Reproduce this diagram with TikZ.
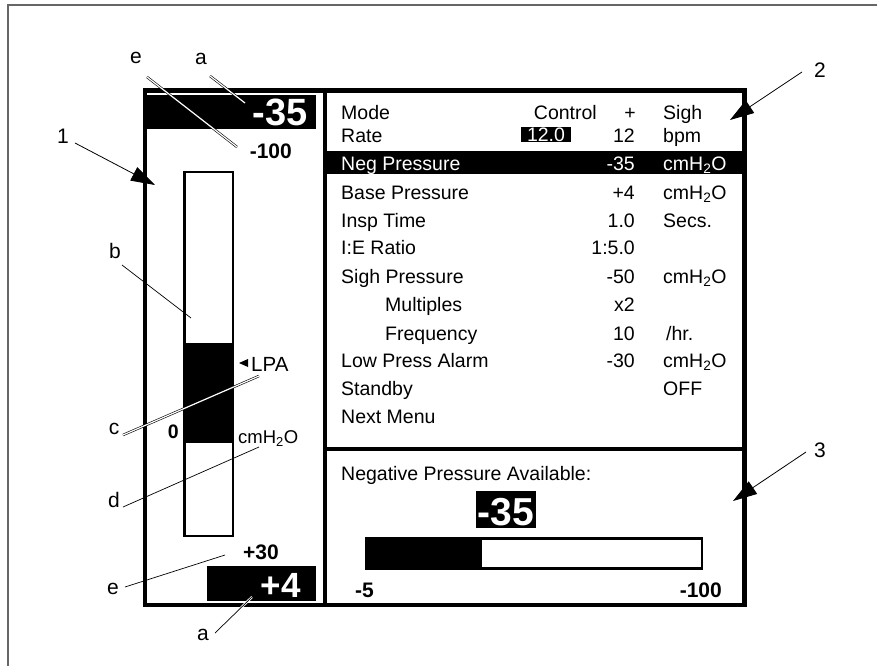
\documentclass[tikz,border=0pt]{standalone}
\usepackage{fontspec}
\setmainfont{Liberation Sans}
\usetikzlibrary{arrows.meta}
\newcommand{\cmHtwoO}{cmH\textsubscript{2}O}
\begin{document}
\begin{tikzpicture}[x=1pt,y=-1pt,
  mtxt/.style={inner sep=0pt,anchor=base west,font=\fontsize{19.5}{22}\selectfont},
  rnum/.style={mtxt,anchor=base east},
  wtxt/.style={text=white},
  btxt/.style={inner sep=0pt,font=\bfseries\fontsize{21}{24}\selectfont},
  bigtxt/.style={inner sep=0pt,text=white,font=\bfseries\fontsize{38}{40}\selectfont},
  lbl/.style={inner sep=0pt,anchor=base,font=\fontsize{21}{23}\selectfont},
  leader/.style={draw=black,line width=0.7pt},
  halo/.style={draw=black,line width=0.6pt,double=white,double distance=1.2pt},
  callout/.style={draw=black,line width=0.8pt,-{Triangle[length=24pt,width=15pt]}},
  panel/.style={draw=black,line width=4.5pt},
  gauge/.style={draw=black,line width=2.5pt}]
\useasboundingbox (0,0) rectangle (877,666);
\fill[white] (0,0) rectangle (877,666);
% scan frame
\draw[gray!80!black,line width=1.6pt] (8,666) -- (8,5) -- (877,5);
% left panel black boxes
\fill[black] (146,95) rectangle (316,128.5);
\fill[black] (207,566) rectangle (316,601);
% menu highlight
\fill[black] (327,151) rectangle (743,174);
\fill[black] (521,127) rectangle (571,142);
% display frame
\draw[panel] (145,90.5) rectangle (744.5,605);
\draw[line width=4pt] (325,90.5) -- (325,605);
\draw[line width=4pt] (325,449) -- (744.5,449);
% vertical gauge
\fill[black] (184.5,342.5) rectangle (233,442.5);
\draw[gauge] (184.5,172) rectangle (233,536);
% horizontal gauge
\fill[black] (366,538.5) rectangle (482,568.5);
\draw[gauge] (366,538.5) rectangle (702,568.5);
\fill[black] (239,363) -- (248,359) -- (248,367) -- cycle;
% left panel texts
\node[bigtxt,anchor=base east] (topval) at (308,125) {-35};
\node[btxt,anchor=base east] (tmax) at (292,158) {-100};
\node[mtxt,font=\fontsize{20.5}{22}\selectfont] (lpa) at (251,371) {LPA};
\node[btxt,anchor=base east,font=\bfseries\fontsize{19.5}{22}\selectfont] (zero) at (179,438) {0};
\node[mtxt,font=\fontsize{18.5}{20}\selectfont] (unitl) at (238,443) {\cmHtwoO};
\node[btxt,anchor=base east] (tmin) at (279,559) {+30};
\node[bigtxt,anchor=base east,font=\bfseries\fontsize{35}{36}\selectfont] (botval) at (301,597) {+4};
% menu texts
\node[mtxt] (mode) at (341,120) {Mode};
\node[rnum] (ctrl) at (597,120) {Control};
\node[mtxt,anchor=base] (plus) at (630,120) {+};
\node[mtxt] (sigh) at (663,120) {Sigh};
\node[mtxt] (rate) at (341,142) {Rate};
\node[mtxt,anchor=base,wtxt] (rateset) at (546,141) {12.0};
\node[rnum] (ratev) at (635,142) {12};
\node[mtxt] (rateu) at (663,142) {bpm};
\node[mtxt,wtxt] (neg) at (341,170) {Neg Pressure};
\node[rnum,wtxt] (negv) at (635,170) {-35};
\node[mtxt,wtxt] (negu) at (663,170) {\cmHtwoO};
\node[mtxt] (base) at (341,199) {Base Pressure};
\node[rnum] (basev) at (635,199) {+4};
\node[mtxt] (baseu) at (663,199) {\cmHtwoO};
\node[mtxt] (insp) at (341,227) {Insp Time};
\node[rnum] (inspv) at (635,227) {1.0};
\node[mtxt] (inspu) at (663,227) {Secs.};
\node[mtxt] (ie) at (341,254) {I:E Ratio};
\node[rnum] (iev) at (635,254) {1:5.0};
\node[mtxt] (sp) at (341,283) {Sigh Pressure};
\node[rnum] (spv) at (635,283) {-50};
\node[mtxt] (spu) at (663,283) {\cmHtwoO};
\node[mtxt] (mult) at (385,311) {Multiples};
\node[rnum] (multv) at (635,311) {x2};
\node[mtxt] (freq) at (385,340) {Frequency};
\node[rnum] (freqv) at (635,340) {10};
\node[mtxt] (frequ) at (666,340) {/hr.};
\node[mtxt] (lowp) at (341,367) {Low Press Alarm};
\node[rnum] (lowpv) at (635,367) {-30};
\node[mtxt] (lowpu) at (663,367) {\cmHtwoO};
\node[mtxt] (stby) at (341,395) {Standby};
\node[mtxt] (stbyv) at (663,395) {OFF};
\node[mtxt] (next) at (341,423) {Next Menu};
% bottom panel
\node[mtxt] (npa) at (341,480) {Negative Pressure Available:};
\fill[black] (476,491) rectangle (536,528);
\node[bigtxt,anchor=base,font=\bfseries\fontsize{39}{40}\selectfont] (npav) at (506,525) {-35};
\node[btxt,anchor=base west] (bmin) at (355,597) {-5};
\node[btxt,anchor=base east] (bmax) at (722,597) {-100};
% callout labels
\node[lbl] (le1) at (136,64) {e};
\node[lbl] (la1) at (201,65) {a};
\node[lbl] (l1) at (63,143) {1};
\node[lbl] (lb) at (115,258) {b};
\node[lbl] (lc) at (114,434) {c};
\node[lbl] (ld) at (114,507) {d};
\node[lbl] (le2) at (113,594) {e};
\node[lbl] (la2) at (203,640) {a};
\node[lbl] (l2) at (820,78) {2};
\node[lbl] (l3) at (820,457) {3};
% leader coordinates
\coordinate (e1s) at (147,77);   \coordinate (e1t) at (237,147);
\coordinate (a1s) at (210,76);   \coordinate (a1t) at (245,103);
\coordinate (p1s) at (75,143);   \coordinate (p1t) at (155,185);
\coordinate (bs) at (122,265);   \coordinate (bt) at (191,318);
\coordinate (cs) at (123,435);   \coordinate (ct) at (259,376);
\coordinate (ds) at (123,507);   \coordinate (dt) at (259,447);
\coordinate (e2s) at (125,587);  \coordinate (e2t) at (225,555);
\coordinate (a2s) at (215,633);  \coordinate (a2t) at (252,597);
\coordinate (p2s) at (802,72);   \coordinate (p2t) at (730,120);
\coordinate (p3s) at (806,452);  \coordinate (p3t) at (733,501);
% leaders
\draw[halo] (e1s) -- (e1t);
\draw[halo] (a1s) -- (a1t);
\draw[leader] (bs) -- (bt);
\draw[halo] (cs) -- (ct);
\draw[leader] (ds) -- (dt);
\draw[leader] (e2s) -- (e2t);
\draw[white,line width=2.4pt] (a2s) -- (a2t);
\draw[leader] (a2s) -- (a2t);
\draw[callout] (p1s) -- (p1t);
\draw[callout] (p2s) -- (p2t);
\draw[callout] (p3s) -- (p3t);
\end{tikzpicture}
\end{document}
